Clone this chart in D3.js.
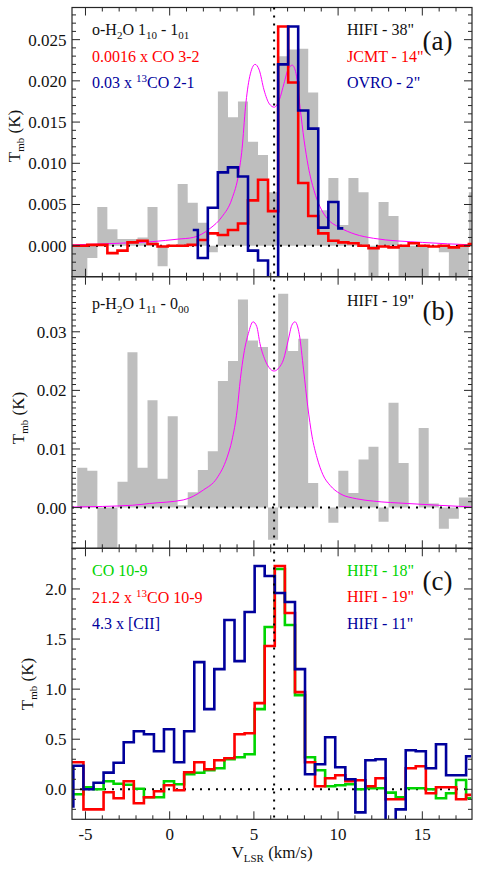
<!DOCTYPE html>
<html>
<head>
<meta charset="utf-8">
<title>H2O spectra</title>
<script src="https://cdn.jsdelivr.net/npm/d3@7"></script>
<style>
  html, body { margin: 0; padding: 0; background: #fff; }
  svg { display: block; }
  text { font-family: "Liberation Serif", "Times New Roman", serif; }
</style>
</head>
<body>
<script>
// ---------- data ----------

// channel centres (km/s) of the spectra in panels (a) and (b)
const velAB = [-5.78, -5.19, -4.59, -4.00, -3.40, -2.80, -2.21, -1.61, -1.02, -0.42,
    0.18, 0.77, 1.37, 1.97, 2.56, 3.16, 3.76, 4.35, 4.95, 5.54,
    6.14, 6.74, 7.33, 7.93, 8.52, 9.12, 9.72, 10.31, 10.91, 11.51,
    12.10, 12.70, 13.29, 13.89, 14.49, 15.08, 15.68, 16.28, 16.87, 17.47, 18.06];

// channel centres (km/s) of the spectra in panel (c)
const velC = [-6.02, -5.42, -4.82, -4.22, -3.63, -3.03, -2.43, -1.83, -1.23, -0.64,
    -0.04, 0.56, 1.16, 1.76, 2.35, 2.95, 3.55, 4.15, 4.75, 5.34,
    5.94, 6.54, 7.14, 7.74, 8.33, 8.93, 9.53, 10.13, 10.73, 11.32,
    11.92, 12.52, 13.12, 13.72, 14.31, 14.91, 15.51, 16.11, 16.71, 17.30, 17.90];

// (a) o-H2O 1_10-1_01 HIFI (grey), 0.0016 x CO 3-2 JCMT (red), 0.03 x 13CO 2-1 OVRO (blue)
const hifiOrtho = [-0.005, -0.005, -0.0015, 0.0047, 0.0020, 0.0008, 0.0008, 0.0010, 0.0047, -0.0025,
    0.0000, 0.0075, 0.0052, 0.0028, -0.0008, 0.0187, 0.0156, 0.0175, 0.0126, 0.0110,
    0.0065, 0.0230, 0.0238, 0.0239, 0.0186, 0.0043, 0.0082, 0.0025, 0.0082, 0.0065,
    -0.0045, 0.0053, 0.0036, -0.005, -0.005, -0.005, 0.0000, -0.0008, -0.005, -0.005, 0.0065];
const jcmtCO32 = [0.0000, 0.0000, 0.0001, 0.0001, -0.0009, -0.0006, 0.0004, 0.0006, 0.0002, -0.0001,
    0.0000, 0.0000, 0.0001, 0.0007, 0.0015, 0.0013, 0.0019, 0.0027, 0.0055, 0.0080,
    0.0042, 0.0266, 0.0198, 0.0076, 0.0036, 0.0015, 0.0006, 0.0004, 0.0003, 0.0000,
    -0.0003, -0.0001, -0.0002, 0.0000, 0.0003, 0.0000, -0.0001, 0.0000, -0.0002, 0.0000, 0.0002];
const ovroFirst = 12;   // OVRO spectrum starts at this channel of velAB
const ovro13CO21 = [0.0019, -0.0015, 0.0046, 0.0089, 0.0095, 0.0084, -0.0006, -0.0018, -0.006, 0.0220,
    0.0266, 0.0164, 0.0142, 0.0022, 0.0053, 0.0021];
const modelOrthoV = [-5.8, -3.0, -1.0, 0.5, 1.4, 2.4, 3.1, 3.7, 4.1, 4.3, 4.5, 4.75, 5.07, 5.32, 5.6, 5.92,
    6.21, 6.51, 6.79, 7.05, 7.28, 7.5, 7.74, 7.98, 8.23, 8.57, 8.93, 9.4, 10.1, 11.0, 12.1, 15.0, 18.0];
const modelOrthoT = [0.0001, 0.0003, 0.0005, 0.0008, 0.0010, 0.0021, 0.0035, 0.0057, 0.0088, 0.0118, 0.0168,
    0.0205, 0.0220, 0.0213, 0.0189, 0.0172, 0.0168, 0.0177, 0.0197, 0.0215, 0.0219, 0.0209, 0.0168,
    0.0128, 0.0096, 0.0067, 0.0047, 0.0032, 0.0022, 0.0014, 0.0009, 0.0004, 0.0001];

// (b) p-H2O 1_11-0_00 HIFI (grey) and model (magenta)
const hifiPara = [null, 0.0068, 0.0063, -0.008, -0.008, 0.0044, 0.0265, 0.0068, 0.0183, 0.0049,
    0.0156, 0.0004, 0.0026, 0.0064, 0.0096, 0.0216, 0.0250, 0.0355, 0.0285, 0.0274,
    -0.0055, 0.0365, 0.0267, 0.0288, 0.0042, 0.0000, -0.0026, 0.0063, 0.0025, 0.0082,
    0.0104, -0.0024, 0.0179, 0.0076, 0.0000, 0.0136, 0.0007, -0.0036, -0.0019, 0.0017, 0.0017];
const modelParaV = [-5.8, -2.2, -1.2, 0.8, 2.0, 2.8, 3.4, 3.7, 4.0, 4.2, 4.4, 4.67, 4.95, 5.17, 5.36, 5.66,
    5.9, 6.2, 6.5, 6.75, 7.04, 7.25, 7.44, 7.7, 7.95, 8.2, 8.45, 8.75, 9.1, 9.52, 10.1, 11.1, 12.1, 14.1, 18.0];
const modelParaT = [0.0001, 0.0004, 0.0007, 0.0013, 0.0030, 0.0050, 0.0085, 0.0115, 0.0165, 0.0220, 0.0262,
    0.0297, 0.0317, 0.0309, 0.0280, 0.0252, 0.0239, 0.0233, 0.0239, 0.0252, 0.0286, 0.0311, 0.0317,
    0.0295, 0.0235, 0.0172, 0.0122, 0.0085, 0.0056, 0.0038, 0.0024, 0.0015, 0.0011, 0.0007, 0.0001];

// (c) CO 10-9 (green), 21.2 x 13CO 10-9 (red), 4.3 x [CII] (blue)
const hifiCO109 = [-0.05, -0.05, 0.02, 0.00, 0.08, 0.055, 0.045, 0.005, -0.08, -0.08,
    0.08, 0.05, 0.15, 0.165, 0.19, 0.21, 0.30, 0.32, 0.35, 0.80,
    1.62, 2.20, 1.64, 0.94, 0.32, 0.19, 0.03, 0.04, 0.05, 0.00,
    0.01, 0.01, -0.033, -0.08, 0.01, 0.01, 0.00, -0.09, -0.04, 0.093, -0.09];
const hifi13CO109 = [0.27, 0.27, -0.20, -0.20, -0.03, -0.09, 0.08, -0.14, -0.08, -0.02,
    0.04, -0.01, 0.17, 0.27, 0.20, 0.29, 0.31, 0.55, 0.56, 0.86,
    1.43, 2.23, 1.76, 0.97, 0.27, 0.03, 0.11, 0.14, 0.08, 0.09,
    0.03, 0.11, -0.10, -0.10, 0.21, 0.23, -0.04, 0.02, 0.02, -0.10, -0.056];
const hifiCII = [-0.17, 0.235, 0.00, 0.066, 0.166, 0.265, 0.47, 0.58, 0.55, 0.38,
    0.60, 0.27, 0.58, 1.27, 0.80, 1.20, 1.69, 1.28, 1.77, 2.23,
    2.13, 1.96, 1.87, 1.20, 0.15, 0.25, 0.52, 0.22, 0.10, -0.23,
    0.29, 0.30, -0.35, -0.20, 0.39, 0.38, 0.21, 0.45, 0.14, 0.14, 0.33];

const chanWidth = 0.596;     // km/s
const vSource = 6.2;         // systemic velocity, dotted vertical line
const xTicks = [-5, 0, 5, 10, 15];

// ---------- layout ----------
const width = 480, height = 872;
const left = 72, right = 472;
const axisColor = "#262626";
const greyFill = "#bebebe", red = "#ff0000", blue = "#00009c", green = "#00d400", magenta = "#ff00ff";

const x = d3.scaleLinear().domain([-5.8, 17.95]).range([left, right]);

const panels = [
    { top: 7.5, bottom: 276.7, domain: [-0.00376, 0.0289], minor: 0.001, perMajor: 5, fmt: d3.format(".3f"),
      ylab: [19.5, 136], letter: "(a)", letterY: 50 },
    { top: 276.7, bottom: 548.3, domain: [-0.00695, 0.0394], minor: 0.001, perMajor: 10, fmt: d3.format(".2f"),
      ylab: [24, 418], letter: "(b)", letterY: 320 },
    { top: 548.3, bottom: 819.3, domain: [-0.2995, 2.406], minor: 0.1, perMajor: 5, fmt: d3.format(".1f"),
      ylab: [33, 684], letter: "(c)", letterY: 590 }
];
panels.forEach(p => p.y = d3.scaleLinear().domain(p.domain).range([p.bottom, p.top]));

const svg = d3.select("body").append("svg")
    .attr("width", width)
    .attr("height", height);

svg.append("rect").attr("width", width).attr("height", height).attr("fill", "white");

const defs = svg.append("defs");
panels.forEach((p, i) => {
    defs.append("clipPath").attr("id", "clip" + i)
        .append("rect")
        .attr("x", left).attr("y", p.top)
        .attr("width", right - left).attr("height", p.bottom - p.top);
});

// ---------- helpers ----------
function histogram(g, p, vel, vals) {
    const pts = vel.flatMap((v, i) => [[v - chanWidth / 2, vals[i]], [v + chanWidth / 2, vals[i]]]);
    const area = d3.area()
        .defined(d => d[1] !== null)
        .x(d => x(d[0]))
        .y0(p.y(0))
        .y1(d => p.y(d[1]));
    g.append("path").attr("d", area(pts)).attr("fill", greyFill).attr("stroke", "none");
}

function stepLine(g, p, vel, vals, color) {
    const line = d3.line().curve(d3.curveStep).x(d => x(d[0])).y(d => p.y(d[1]));
    g.append("path")
        .attr("d", line(vals.map((v, i) => [vel[i], v])))
        .attr("fill", "none")
        .attr("stroke", color)
        .attr("stroke-width", 2.6)
        .attr("stroke-linejoin", "miter");
}

function modelLine(g, p, vel, vals) {
    const line = d3.line().curve(d3.curveMonotoneX).x(d => x(d[0])).y(d => p.y(d[1]));
    g.append("path")
        .attr("d", line(vals.map((v, i) => [vel[i], v])))
        .attr("fill", "none")
        .attr("stroke", magenta)
        .attr("stroke-width", 1);
}

function zeroLine(g, p) {
    g.append("line")
        .attr("x1", left).attr("x2", right)
        .attr("y1", p.y(0)).attr("y2", p.y(0))
        .attr("stroke", "black").attr("stroke-width", 2)
        .attr("stroke-dasharray", "2,6");
}

// a text made of pieces, some of them sub- or superscript
function richText(g, xPos, yPos, parts, color, size) {
    const t = g.append("text").attr("x", xPos).attr("y", yPos)
        .attr("fill", color).style("font-size", size + "px");
    let shift = 0;
    parts.forEach(part => {
        const s = typeof part === "string" ? { t: part } : part;
        const target = s.sub ? 4 : (s.sup ? -6 : 0);
        t.append("tspan")
            .attr("dy", target - shift)
            .style("font-size", (s.sub || s.sup) ? "11px" : size + "px")
            .text(s.t);
        shift = target;
    });
    return t;
}

function frame(g, p, withXLabels) {
    g.append("rect")
        .attr("x", left).attr("y", p.top)
        .attr("width", right - left).attr("height", p.bottom - p.top)
        .attr("fill", "none").attr("stroke", axisColor).attr("stroke-width", 1.2);

    // x ticks, top and bottom, pointing inwards
    d3.range(-5, 18).forEach(v => {
        const len = v % 5 === 0 ? 8 : 4;
        [[p.bottom, -len], [p.top, len]].forEach(([y0, d]) => {
            g.append("line")
                .attr("x1", x(v)).attr("x2", x(v))
                .attr("y1", y0).attr("y2", y0 + d)
                .attr("stroke", axisColor).attr("stroke-width", 1);
        });
    });

    // y ticks, left and right
    const i0 = Math.ceil(p.domain[0] / p.minor - 1e-6), i1 = Math.floor(p.domain[1] / p.minor + 1e-6);
    d3.range(i0, i1 + 1).forEach(i => {
        const yy = p.y(i * p.minor);
        const major = i % p.perMajor === 0;
        const len = major ? 8 : 4;
        g.append("line").attr("x1", left).attr("x2", left + len).attr("y1", yy).attr("y2", yy)
            .attr("stroke", axisColor).attr("stroke-width", 1);
        g.append("line").attr("x1", right).attr("x2", right - len).attr("y1", yy).attr("y2", yy)
            .attr("stroke", axisColor).attr("stroke-width", 1);
        if (major) {
            g.append("text")
                .attr("x", 66.5).attr("y", yy).attr("dy", "0.35em")
                .attr("text-anchor", "end")
                .style("font-size", "17px")
                .attr("fill", "#111")
                .text(p.fmt(i * p.minor));
        }
    });

    if (withXLabels) {
        xTicks.forEach(v => {
            g.append("text")
                .attr("x", x(v)).attr("y", 840)
                .attr("text-anchor", "middle")
                .style("font-size", "17px")
                .attr("fill", "#111")
                .text(v);
        });
    }

    // y axis title
    const yt = g.append("text")
        .attr("transform", "translate(" + p.ylab[0] + "," + p.ylab[1] + ") rotate(-90)")
        .attr("text-anchor", "middle")
        .attr("fill", "#111")
        .style("font-size", "17px");
    yt.append("tspan").text("T");
    yt.append("tspan").attr("dy", 4).style("font-size", "11px").text("mb");
    yt.append("tspan").attr("dy", -4).text(" (K)");

    // panel letter
    g.append("text")
        .attr("x", 422.5).attr("y", p.letterY)
        .style("font-size", "27px")
        .attr("fill", "#111")
        .text(p.letter);
}

// ---------- panels ----------
const layers = panels.map((p, i) => {
    const g = svg.append("g");
    return { g: g, data: g.append("g").attr("clip-path", "url(#clip" + i + ")") };
});

// (a)
{
    const p = panels[0], g = layers[0].data;
    histogram(g, p, velAB, hifiOrtho);
    zeroLine(g, p);
    modelLine(g, p, modelOrthoV, modelOrthoT);
    stepLine(g, p, velAB, jcmtCO32, red);
    stepLine(g, p, velAB.slice(ovroFirst, ovroFirst + ovro13CO21.length), ovro13CO21, blue);
}

// (b)
{
    const p = panels[1], g = layers[1].data;
    histogram(g, p, velAB, hifiPara);
    zeroLine(g, p);
    modelLine(g, p, modelParaV, modelParaT);
}

// (c)
{
    const p = panels[2], g = layers[2].data;
    zeroLine(g, p);
    stepLine(g, p, velC, hifiCO109, green);
    stepLine(g, p, velC, hifi13CO109, red);
    stepLine(g, p, velC, hifiCII, blue);
}

// systemic velocity through all panels
svg.append("line")
    .attr("x1", x(vSource)).attr("x2", x(vSource))
    .attr("y1", panels[0].top).attr("y2", panels[2].bottom)
    .attr("stroke", "black").attr("stroke-width", 2)
    .attr("stroke-dasharray", "2,6");

panels.forEach((p, i) => frame(layers[i].g, p, i === 2));

// ---------- legends ----------
const L = svg.append("g");
const lx = 92, rx = 347;

richText(L, lx, 35, ["o-H", { t: "2", sub: true }, "O 1", { t: "10", sub: true }, " - 1", { t: "01", sub: true }], "#111", 16);
richText(L, lx, 61.5, ["0.0016 x CO 3-2"], red, 16);
richText(L, lx, 88, ["0.03 x ", { t: "13", sup: true }, "CO 2-1"], blue, 16);
richText(L, rx, 35, ["HIFI - 38\""], "#111", 16);
richText(L, rx, 61.5, ["JCMT - 14\""], red, 16);
richText(L, rx, 88, ["OVRO - 2\""], blue, 16);

richText(L, lx, 309, ["p-H", { t: "2", sub: true }, "O 1", { t: "11", sub: true }, " - 0", { t: "00", sub: true }], "#111", 16);
richText(L, rx, 306, ["HIFI - 19\""], "#111", 16);

richText(L, lx, 576, ["CO 10-9"], green, 16);
richText(L, lx, 602.5, ["21.2 x ", { t: "13", sup: true }, "CO 10-9"], red, 16);
richText(L, lx, 629, ["4.3 x [CII]"], blue, 16);
richText(L, rx, 575.5, ["HIFI - 18\""], green, 16);
richText(L, rx, 602, ["HIFI - 19\""], red, 16);
richText(L, rx, 628.5, ["HIFI - 11\""], blue, 16);

// x axis title
const xt = svg.append("text")
    .attr("x", 272).attr("y", 858)
    .attr("text-anchor", "middle")
    .attr("fill", "#111")
    .style("font-size", "17px");
xt.append("tspan").text("V");
xt.append("tspan").attr("dy", 4).style("font-size", "11px").text("LSR");
xt.append("tspan").attr("dy", -4).text(" (km/s)");
</script>
</body>
</html>
